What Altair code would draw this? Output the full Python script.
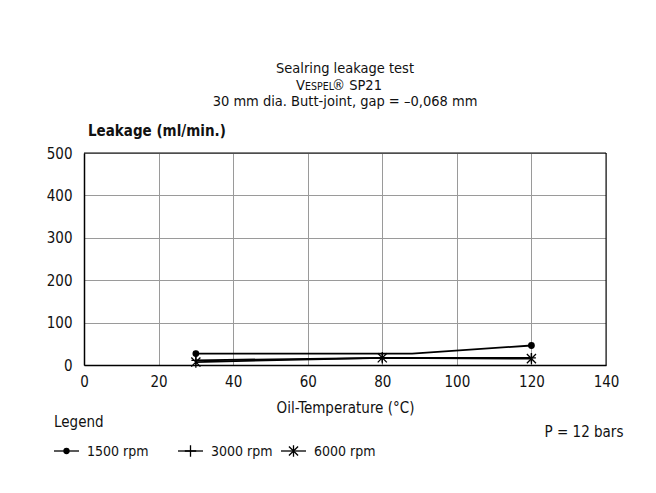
import altair as alt
import pandas as pd

# ---- data ----
series = ["1500 rpm", "3000 rpm", "6000 rpm"]
temp_1500 = [30, 88, 120]
leak_1500 = [27, 27, 46]
marker_temp_1500 = [30, 120]
marker_leak_1500 = [27, 46]
temp_3000 = [30, 80, 120]
leak_3000 = [11, 17, 17]
temp_6000 = [30, 80, 120]
leak_6000 = [7, 17, 15]

x_ticks = [0, 20, 40, 60, 80, 100, 120, 140]
y_ticks = [0, 100, 200, 300, 400, 500]

FONT = "DejaVu Sans Condensed, Liberation Sans Narrow, sans-serif"
TXT = "#111111"
FS = 15
TS = 14.5

PLUS = "M-1,0L1,0M0,-1L0,1"
STAR = "M0,-1L0,1M-0.8,-0.8L0.8,0.8M-0.8,0.8L0.8,-0.8"
shapes = ["circle", PLUS, STAR]

rows = []
for t, v in zip(temp_1500, leak_1500):
    rows.append({"series": series[0], "temp": t, "leak": v})
for t, v in zip(temp_3000, leak_3000):
    rows.append({"series": series[1], "temp": t, "leak": v})
for t, v in zip(temp_6000, leak_6000):
    rows.append({"series": series[2], "temp": t, "leak": v})
lines_df = pd.DataFrame(rows)

prow = []
for t, v in zip(marker_temp_1500, marker_leak_1500):
    prow.append({"series": series[0], "temp": t, "leak": v})
for t, v in zip(temp_3000, leak_3000):
    prow.append({"series": series[1], "temp": t, "leak": v})
for t, v in zip(temp_6000, leak_6000):
    prow.append({"series": series[2], "temp": t, "leak": v})
pts_df = pd.DataFrame(prow)

W, H = 522, 212

xenc = alt.X(
    "temp:Q",
    scale=alt.Scale(domain=[0, 140], nice=False, zero=False),
    axis=alt.Axis(
        values=x_ticks, title="Oil-Temperature (°C)", ticks=False, labelPadding=9,
        titlePadding=11, titleFontWeight="normal", titleFontSize=FS, labelFlush=False,
    ),
)
yenc = alt.Y(
    "leak:Q",
    scale=alt.Scale(domain=[0, 500], nice=False),
    axis=alt.Axis(values=y_ticks, title=None, ticks=False, labelPadding=12),
)

lines = alt.Chart(lines_df).mark_line(color="black", strokeWidth=1.8).encode(
    x=xenc, y=yenc, detail="series:N"
)
points = alt.Chart(pts_df).mark_point(
    filled=True, color="black", stroke="black", strokeWidth=1.3, opacity=1
).encode(
    x="temp:Q",
    y="leak:Q",
    shape=alt.Shape("series:N", scale=alt.Scale(domain=series, range=shapes), legend=None),
    size=alt.Size("series:N", scale=alt.Scale(domain=series, range=[30, 130, 130]), legend=None),
)

# plot frame top and right (drawn above grid)
frame_top = alt.Chart().mark_rule(color="black", strokeWidth=1).encode(
    x=alt.value(0), x2=alt.value(W), y=alt.value(0)
)
frame_right = alt.Chart().mark_rule(color="black", strokeWidth=1).encode(
    x=alt.value(W), y=alt.value(0), y2=alt.value(H)
)


def txt(text, x, y, size=FS, align="left", weight="normal"):
    return alt.Chart().mark_text(
        text=text, font=FONT, fontSize=size, align=align, baseline="alphabetic",
        fontWeight=weight, color=TXT,
    ).encode(x=alt.value(x), y=alt.value(y))


annotations = [
    txt("Sealring leakage test", 261, -80, size=TS, align="center"),
    txt("V", 221, -63, size=TS, align="right"),
    txt("ESPEL", 221, -63, size=10.5),
    txt("® SP21", 248, -63, size=TS),
    txt("30 mm dia. Butt-joint, gap = –0,068 mm", 261, -47, size=TS, align="center"),
    txt("Leakage (ml/min.)", 4, -17, weight="bold"),
    txt("Legend", -30, 274),
    txt("P = 12 bars", 500, 284, align="center"),
]

legend_layers = []
leg_x = [-30, 94, 197]
for i, s in enumerate(series):
    x0 = leg_x[i]
    legend_layers.append(
        alt.Chart().mark_rule(color="black", strokeWidth=1.3).encode(
            x=alt.value(x0), x2=alt.value(x0 + 25), y=alt.value(298)
        )
    )
    legend_layers.append(
        alt.Chart().mark_point(
            shape=shapes[i], filled=True, color="black", stroke="black",
            strokeWidth=1.3, opacity=1, size=[25, 130, 130][i],
        ).encode(x=alt.value(x0 + 12.5), y=alt.value(298))
    )
    legend_layers.append(txt(s, x0 + 33, 303, size=14))

chart = alt.layer(
    lines, points, frame_top, frame_right, *annotations, *legend_layers
).properties(
    width=W, height=H,
    autosize=alt.AutoSizeParams(type="none"),
    padding={"left": 76, "top": 145, "right": 40, "bottom": 120},
    background="white",
).configure_view(
    stroke="black", strokeWidth=1
).configure_axis(
    labelFont=FONT, titleFont=FONT, labelFontSize=FS, labelColor=TXT, titleColor=TXT,
    gridColor="#9a9a9a", gridWidth=1, gridOpacity=1,
    domainColor="black", domainWidth=1.5,
)

chart.save("out.html", embed_options={"renderer": "svg", "actions": False})
